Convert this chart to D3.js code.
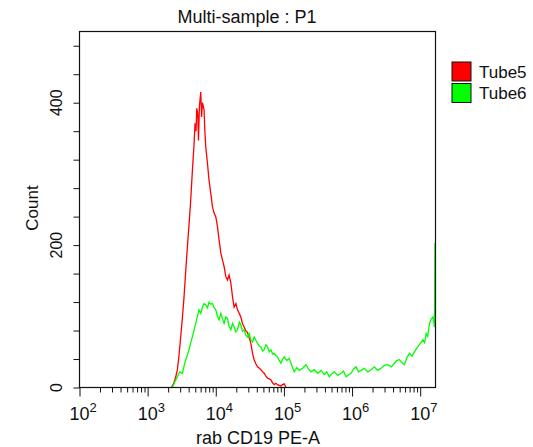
<!DOCTYPE html>
<html>
<head>
<meta charset="utf-8">
<script src="https://cdn.jsdelivr.net/npm/d3@7"></script>
<style>
  body { margin: 0; background: #fff; }
  text { font-family: "Liberation Sans", Arial, sans-serif; fill: #111; }
</style>
</head>
<body>
<div id="chart"></div>
<script>
// histogram bins: log10 of PE-A intensity, and counts
const tube5Log = [3.350, 3.380, 3.410, 3.437, 3.460, 3.485, 3.510, 3.534, 3.560, 3.584, 3.610, 3.632,
  3.657, 3.680, 3.696, 3.710, 3.721, 3.735, 3.746, 3.760, 3.779, 3.792, 3.804,
  3.828, 3.840, 3.853, 3.878, 3.901, 3.926, 3.951, 3.975, 4.000, 4.025, 4.049, 4.074, 4.099, 4.122, 4.147,
  4.172, 4.195, 4.221, 4.246, 4.269, 4.295, 4.319, 4.345, 4.368, 4.392, 4.416, 4.440, 4.466, 4.490, 4.515,
  4.540, 4.563, 4.590, 4.613, 4.640, 4.662, 4.690, 4.710, 4.735, 4.760, 4.785,
  4.809, 4.830, 4.857, 4.880, 4.907, 4.930, 4.956, 4.980, 5.004, 5.020, 5.029];
const tube5Count = [0, 5, 14, 25, 45, 71, 98, 127, 165, 198, 232, 263,
  305, 340, 371, 360, 392, 385, 347, 395, 415, 380, 400,
  390, 360, 338, 315, 291, 273, 254, 245, 240, 226, 207, 189, 179, 170, 156,
  151, 158, 147, 127, 113, 118, 109, 104, 99, 90, 85, 80, 77, 70, 62,
  48, 39, 33, 29, 27, 25, 22, 20, 16, 13, 12,
  11, 7, 4, 6, 4, 3, 2, 4, 5, 2, 0];

const tube6Log = [3.363, 3.400, 3.437, 3.470, 3.510, 3.535, 3.559, 3.585, 3.607, 3.630, 3.657, 3.680,
  3.706, 3.730, 3.754, 3.780, 3.804, 3.830, 3.853, 3.878, 3.901, 3.925, 3.951, 3.975,
  4.000, 4.025, 4.049, 4.074, 4.100, 4.122, 4.147, 4.172, 4.195, 4.221, 4.245, 4.269, 4.295, 4.319,
  4.345, 4.368, 4.392, 4.416, 4.440, 4.466, 4.490, 4.515, 4.540, 4.563, 4.590, 4.613, 4.640,
  4.662, 4.690, 4.710, 4.735, 4.760, 4.785, 4.809, 4.835, 4.857, 4.880, 4.907, 4.930, 4.956, 4.980,
  5.004, 5.040, 5.078, 5.115, 5.151, 5.190, 5.225, 5.275, 5.324, 5.360, 5.397, 5.445, 5.496, 5.545,
  5.593, 5.630, 5.666, 5.700, 5.740, 5.790, 5.838, 5.875, 5.912, 5.950, 5.985, 6.020, 6.059, 6.095,
  6.132, 6.180, 6.231, 6.280, 6.328, 6.375, 6.426, 6.475, 6.525, 6.575, 6.622, 6.660, 6.696, 6.730,
  6.769, 6.805, 6.843, 6.880, 6.916, 6.940, 6.966, 7.000, 7.040, 7.065, 7.088, 7.110, 7.137,
  7.160, 7.187, 7.200, 7.210, 7.216, 7.219];
const tube6Count = [0, 8, 15, 22, 20, 30, 39, 46, 53, 62, 71, 80,
  90, 100, 109, 104, 113, 118, 116, 112, 120, 117, 118, 112,
  109, 100, 95, 104, 96, 90, 99, 97, 86, 81, 90, 85, 78, 81,
  92, 88, 79, 81, 74, 71, 76, 67, 64, 71, 66, 62, 58,
  57, 51, 53, 60, 57, 50, 53, 47, 48, 45, 43, 38, 34, 40,
  43, 38, 41, 31, 22, 28, 24, 27, 32, 26, 22, 25, 20, 24,
  18, 22, 15, 19, 22, 17, 20, 23, 15, 18, 20, 26, 29, 22,
  24, 27, 22, 25, 29, 24, 27, 31, 32, 29, 34, 38, 39, 35,
  32, 42, 48, 44, 50, 54, 57, 62, 67, 63, 76, 72, 90,
  96, 99, 91, 85, 202, 202];

const xMajor = [2, 3, 4, 5, 6, 7];
const yTicks = [0, 40, 80, 120, 160, 200, 240, 280, 320, 360, 400, 440, 480];
const yLabels = [0, 200, 400];
const legendNames = ['Tube5', 'Tube6'];
const legendColors = ['#ff0000', '#00ff00'];

const width = 533;
const height = 447;

const x = d3.scaleLog()
  .domain([100, 16777216])
  .range([79.5, 435.5]);

const y = d3.scaleLinear()
  .domain([0, 500])
  .range([387.5, 31.5]);

const svg = d3.select('#chart').append('svg')
  .attr('width', width)
  .attr('height', height);

svg.append('rect')
  .attr('width', width)
  .attr('height', height)
  .attr('fill', '#fff');

svg.append('defs').append('clipPath')
  .attr('id', 'plot')
  .append('rect')
  .attr('x', x.range()[0])
  .attr('y', y.range()[1])
  .attr('width', x.range()[1] - x.range()[0])
  .attr('height', y.range()[0] - y.range()[1]);

// minor ticks 2..9 per decade
const xMinor = [];
xMajor.forEach(p => {
  d3.range(2, 10).forEach(m => {
    const v = m * Math.pow(10, p);
    if (v < x.domain()[1]) xMinor.push(v);
  });
});

const axisG = svg.append('g').attr('transform', `translate(0, ${y.range()[0]})`);
axisG.call(d3.axisBottom(x).tickValues(xMinor).tickSize(5).tickSizeOuter(0).tickFormat(''));
axisG.append('g')
  .call(d3.axisBottom(x).tickValues(xMajor.map(p => Math.pow(10, p))).tickSize(9).tickSizeOuter(0).tickFormat(''));
axisG.selectAll('.domain').remove();
axisG.selectAll('line').attr('stroke', '#111');

const yAxisG = svg.append('g').attr('transform', `translate(${x.range()[0]}, 0)`);
yAxisG.call(d3.axisLeft(y).tickValues(yTicks).tickSize(6).tickSizeOuter(0).tickFormat(''));
yAxisG.selectAll('.domain').remove();
yAxisG.selectAll('line').attr('stroke', '#111');

// x tick labels, 10 with superscript
const xl = svg.selectAll('.xlab')
  .data(xMajor)
  .enter().append('text')
  .attr('class', 'xlab')
  .attr('x', d => x(Math.pow(10, d)) - 10)
  .attr('y', 420)
  .style('font-size', '18px');
xl.append('tspan').text('10');
xl.append('tspan')
  .attr('dy', -8)
  .style('font-size', '13px')
  .text(d => d);

svg.selectAll('.ylab')
  .data(yLabels)
  .enter().append('text')
  .attr('class', 'ylab')
  .attr('transform', d => `translate(62, ${y(d)}) rotate(-90)`)
  .attr('text-anchor', 'middle')
  .style('font-size', '16px')
  .text(d => d);

const line = d3.line()
  .x(d => x(Math.pow(10, d[0])))
  .y(d => y(d[1]));

const plot = svg.append('g').attr('clip-path', 'url(#plot)');

plot.append('path')
  .datum(tube5Log.map((v, i) => [v, tube5Count[i]]))
  .attr('d', line)
  .attr('fill', 'none')
  .attr('stroke', legendColors[0])
  .attr('stroke-width', 1.3);

plot.append('path')
  .datum(tube6Log.map((v, i) => [v, tube6Count[i]]))
  .attr('d', line)
  .attr('fill', 'none')
  .attr('stroke', legendColors[1])
  .attr('stroke-width', 1.3);

// frame
svg.append('rect')
  .attr('x', x.range()[0])
  .attr('y', y.range()[1])
  .attr('width', x.range()[1] - x.range()[0])
  .attr('height', y.range()[0] - y.range()[1])
  .attr('fill', 'none')
  .attr('stroke', '#111')
  .attr('stroke-width', 1.2);

svg.append('text')
  .attr('x', 247)
  .attr('y', 23)
  .attr('text-anchor', 'middle')
  .style('font-size', '18px')
  .text('Multi-sample : P1');

svg.append('text')
  .attr('x', 258)
  .attr('y', 444)
  .attr('text-anchor', 'middle')
  .style('font-size', '18px')
  .text('rab CD19 PE-A');

svg.append('text')
  .attr('transform', 'translate(38, 208) rotate(-90)')
  .attr('text-anchor', 'middle')
  .style('font-size', '17px')
  .text('Count');

const legend = svg.selectAll('.leg')
  .data(legendNames)
  .enter().append('g')
  .attr('class', 'leg')
  .attr('transform', (d, i) => `translate(452, ${62 + i * 21.5})`);

legend.append('rect')
  .attr('width', 19)
  .attr('height', 19)
  .attr('fill', (d, i) => legendColors[i])
  .attr('stroke', '#111')
  .attr('stroke-width', 1);

legend.append('text')
  .attr('x', 27)
  .attr('y', 15.5)
  .style('font-size', '17px')
  .text(d => d);
</script>
</body>
</html>
